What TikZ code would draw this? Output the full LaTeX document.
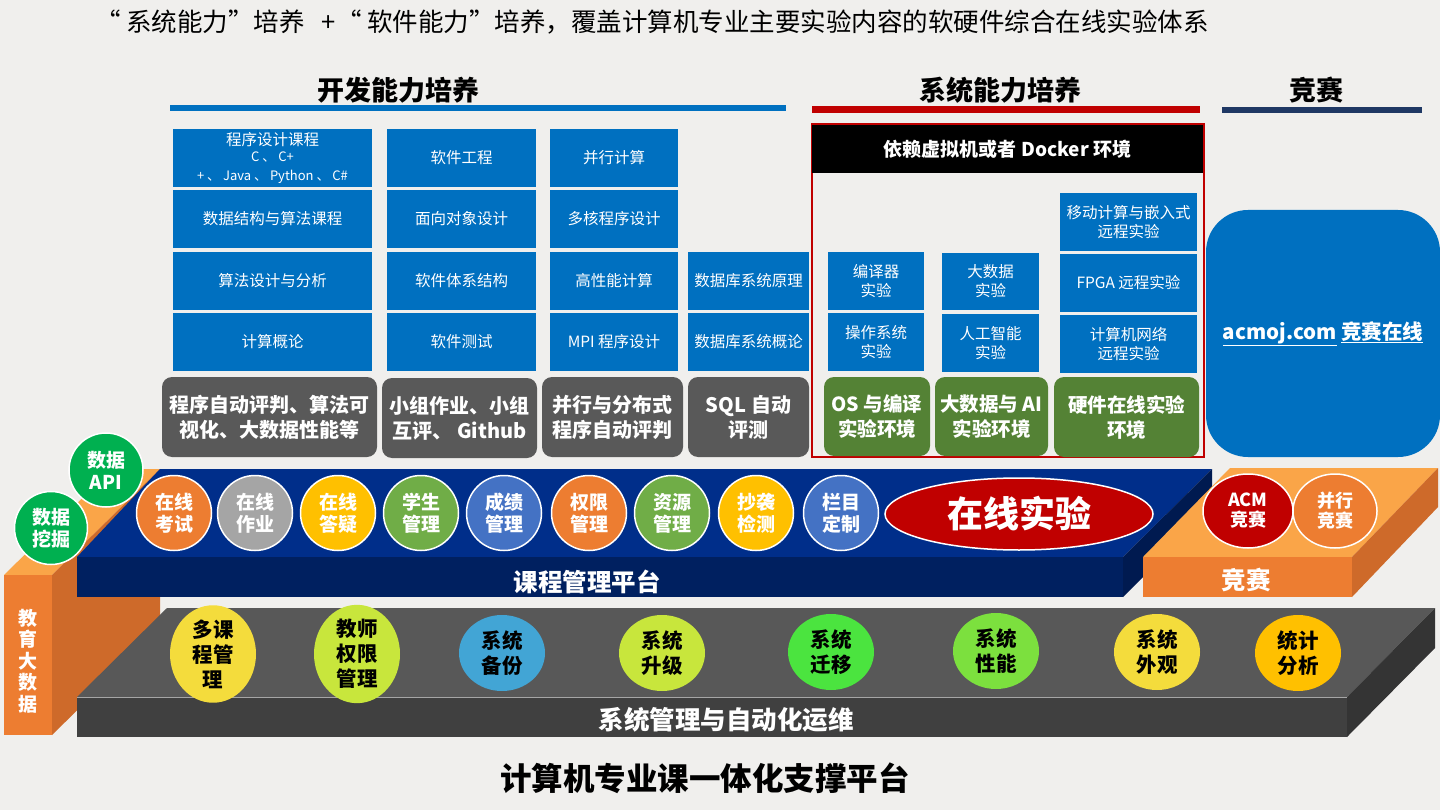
\documentclass[tikz,border=0pt]{standalone}
\usepackage{fontspec}
\setmainfont{Noto Sans CJK SC}
\usetikzlibrary{shapes.geometric}
\definecolor{bg}{RGB}{240,239,237}
\definecolor{cblue}{RGB}{0,112,192}
\definecolor{cgray}{RGB}{89,89,89}
\definecolor{cgreen}{RGB}{84,130,53}
\definecolor{cred}{RGB}{192,0,0}
\definecolor{cnavy}{RGB}{31,56,100}
\definecolor{ptop}{RGB}{0,46,138}
\definecolor{pfront}{RGB}{0,32,96}
\definecolor{pside}{RGB}{0,26,80}
\definecolor{otop}{RGB}{250,165,72}
\definecolor{ofront}{RGB}{237,125,49}
\definecolor{oside}{RGB}{206,106,42}
\definecolor{gtop}{RGB}{88,88,88}
\definecolor{gfront}{RGB}{64,64,64}
\definecolor{gside}{RGB}{52,52,52}
\definecolor{kor}{RGB}{237,125,49}
\definecolor{kgr}{RGB}{165,165,165}
\definecolor{kgo}{RGB}{255,192,0}
\definecolor{kgn}{RGB}{112,173,71}
\definecolor{kbl}{RGB}{68,114,196}
\definecolor{kdg}{RGB}{0,176,80}
\definecolor{myel}{RGB}{244,220,60}
\definecolor{mlime}{RGB}{200,230,60}
\definecolor{msky}{RGB}{66,165,213}
\definecolor{mgrn}{RGB}{75,228,63}
\definecolor{mlgn}{RGB}{124,224,62}
\newcommand\myfs[2]{\fontsize{#1}{#2}\selectfont}
\newcommand\bx[7]{\node[#6, minimum width={#4-#2}, minimum height={#5-#3}] (#1) at ({(#2+#4)/2},{(#3+#5)/2}) {#7};}
\tikzset{
  bb/.style={fill=cblue, text=white, inner sep=0pt, align=center, font=\myfs{15.5}{19}},
  gb/.style={fill=cgray, rounded corners=10pt, text=white, inner sep=0pt, align=center, font=\bfseries\myfs{20}{25}},
  grb/.style={fill=cgreen, rounded corners=10pt, text=white, inner sep=0pt, align=center, font=\bfseries\myfs{19.5}{25}},
  pc/.style={circle, draw=white, line width=1.5pt, minimum size=75pt, text=white, inner sep=0pt, align=center, font=\bfseries\myfs{19}{22}},
  mc/.style={ellipse, minimum width=86pt, minimum height=76pt, text=black, inner sep=0pt, align=center, font=\bfseries\myfs{20.5}{25}},
  hdr/.style={font=\bfseries\myfs{27}{30}, text=black},
  lab/.style={text=white, font=\bfseries\myfs{24.5}{27}}
}
\begin{document}
\begin{tikzpicture}[x=1pt,y=-1pt]
\useasboundingbox (0,0) rectangle (1440,810);
\fill[bg] (0,0) rectangle (1440,810);

% title
\node[font=\myfs{25.5}{28}] (title) at (652,22) {“ 系统能力”培养\ \ \ +“ 软件能力”培养，覆盖计算机专业主要实验内容的软硬件综合在线实验体系};

% section headers
\node[hdr] (h1) at (398,90) {开发能力培养};
\node[hdr] (h2) at (1000,90) {系统能力培养};
\node[hdr] (h3) at (1316,90) {竞赛};
\fill[cblue] (170,105) rectangle (786,111);
\fill[cred] (812,106) rectangle (1200,113);
\fill[cnavy] (1222,107) rectangle (1422,113);

% development boxes
\bx{c11}{173}{129}{372}{187}{bb}{程序设计课程\\[-3pt]{\myfs{13}{15}C 、 C+}\\{\myfs{13}{15}+ 、 Java 、 Python 、 C\#}}
\bx{c12}{173}{190}{372}{248}{bb}{数据结构与算法课程}
\bx{c13}{173}{252}{372}{310}{bb}{算法设计与分析}
\bx{c14}{173}{313}{372}{371}{bb}{计算概论}
\bx{c21}{387}{129}{536}{187}{bb}{软件工程}
\bx{c22}{387}{190}{536}{248}{bb}{面向对象设计}
\bx{c23}{387}{252}{536}{310}{bb}{软件体系结构}
\bx{c24}{387}{313}{536}{371}{bb}{软件测试}
\bx{c31}{550}{129}{678}{187}{bb}{并行计算}
\bx{c32}{550}{190}{678}{248}{bb}{多核程序设计}
\bx{c33}{550}{252}{678}{310}{bb}{高性能计算}
\bx{c34}{550}{313}{678}{371}{bb}{MPI 程序设计}
\bx{c43}{688}{252}{809}{310}{bb}{数据库系统原理}
\bx{c44}{688}{313}{809}{371}{bb}{数据库系统概论}

\bx{g1}{162}{377}{377}{457}{gb}{程序自动评判、算法可\\视化、大数据性能等}
\bx{g2}{382}{378}{537}{458}{gb}{小组作业、小组\\互评、 Github}
\bx{g3}{542}{377}{683}{457}{gb}{并行与分布式\\程序自动评判}
\bx{g4}{688}{377}{809}{457}{gb}{SQL 自动\\评测}

% system section
\draw[cred, line width=2pt] (812,124) rectangle (1204,457);
\bx{dock}{812}{125}{1203}{173}{fill=black, text=white, inner sep=0pt, font=\bfseries\myfs{19}{22}}{依赖虚拟机或者 Docker 环境}
\bx{sa1}{828}{252}{924}{310}{bb}{编译器\\实验}
\bx{sa2}{828}{313}{924}{371}{bb}{操作系统\\实验}
\bx{sb1}{942}{253}{1039}{310}{bb}{大数据\\实验}
\bx{sb2}{942}{314}{1039}{372}{bb}{人工智能\\实验}
\bx{sc1}{1060}{193}{1197}{251}{bb}{移动计算与嵌入式\\远程实验}
\bx{sc2}{1060}{254}{1197}{312}{bb}{FPGA 远程实验}
\bx{sc3}{1060}{315}{1197}{373}{bb}{计算机网络\\远程实验}
\bx{e1}{824}{377}{930}{456}{grb}{OS 与编译\\实验环境}
\bx{e2}{935}{377}{1048}{456}{grb}{大数据与 AI\\实验环境}
\bx{e3}{1054}{377}{1199}{457}{grb}{硬件在线实验\\环境}

% competition box
\bx{acm}{1206}{210}{1440}{457}{fill=cblue, rounded corners=42pt, text=white, inner sep=0pt, font=\bfseries\myfs{20.5}{24}}{\underline{acmoj.com} \underline{竞赛在线}}

% left pillar
\fill[otop] (4,575) -- (52,575) -- (160,469) -- (112,469) -- cycle;
\fill[oside] (52,575) -- (160,469) -- (160,629) -- (52,735) -- cycle;
\fill[ofront] (4,575) rectangle (52,735);
\node[text=white, align=center, font=\bfseries\myfs{19}{21.5}] (edu) at (28,661) {教\\育\\大\\数\\据};

% course platform slab
\fill[ptop] (160,469) -- (1212,469) -- (1123,557) -- (77,557) -- cycle;
\fill[pfront] (77,557) rectangle (1123,597);
\fill[pside] (1123,557) -- (1212,469) -- (1212,509) -- (1123,597) -- cycle;
\node[lab] (plat) at (587,582) {课程管理平台};

% competition slab
\fill[otop] (1230,468) -- (1438,468) -- (1352,557) -- (1143,557) -- cycle;
\fill[ofront] (1143,557) rectangle (1352,597);
\fill[oside] (1352,557) -- (1438,468) -- (1438,507) -- (1352,597) -- cycle;
\node[lab] (comp) at (1246,580) {竞赛};

% system management slab
\fill[gtop] (167,608) -- (1435,608) -- (1347,697) -- (77,697) -- cycle;
\fill[gfront] (77,697) rectangle (1347,737);
\fill[gside] (1347,697) -- (1435,608) -- (1435,648) -- (1347,737) -- cycle;
\draw[gray!70, line width=0.8pt] (77,697) -- (1347,697);
\node[text=white, font=\bfseries\myfs{25.5}{28}] (sysm) at (726,720) {系统管理与自动化运维};

% data circles
\node[pc, fill=kdg, minimum size=74pt] (dapi) at (106,470) {数据\\API};
\node[pc, fill=kdg, minimum size=73pt] (dmin) at (51,528) {数据\\挖掘};

% course platform circles
\node[pc, fill=kor] (p1) at (174,513) {在线\\考试};
\node[pc, fill=kgr] (p2) at (255,513) {在线\\作业};
\node[pc, fill=kgo] (p3) at (338,513) {在线\\答疑};
\node[pc, fill=kgn] (p4) at (421,513) {学生\\管理};
\node[pc, fill=kbl] (p5) at (504,513) {成绩\\管理};
\node[pc, fill=kor] (p6) at (589,513) {权限\\管理};
\node[pc, fill=kgn] (p7) at (672,513) {资源\\管理};
\node[pc, fill=kgo] (p8) at (756,513) {抄袭\\检测};
\node[pc, fill=kbl] (p9) at (841,513) {栏目\\定制};
\node[ellipse, fill=cred, draw=white, line width=1.5pt, minimum width=268pt, minimum height=72pt, text=white, font=\bfseries\myfs{36}{40}] (olx) at (1019,514) {在线实验};

% competition circles
\node[pc, fill=cred, ellipse, minimum width=90pt, minimum height=74pt, font=\bfseries\myfs{18}{20}] (acmc) at (1248,511) {ACM\\竞赛};
\node[pc, fill=kor, ellipse, minimum width=84pt, minimum height=74pt, font=\bfseries\myfs{18}{20}] (parc) at (1335,511) {并行\\竞赛};

% system management circles
\node[mc, fill=myel] (m1) at (213,654) {多课\\程管\\理};
\node[mc, fill=mlime] (m2) at (357,654) {教师\\权限\\管理};
\node[mc, fill=msky] (m3) at (502,653) {系统\\备份};
\node[mc, fill=mlime] (m4) at (662,653) {系统\\升级};
\node[mc, fill=mgrn] (m5) at (831,652) {系统\\迁移};
\node[mc, fill=mlgn] (m6) at (996,651) {系统\\性能};
\node[mc, fill=myel] (m7) at (1157,652) {系统\\外观};
\node[mc, fill=kgo] (m8) at (1298,653) {统计\\分析};

% bottom title
\node[font=\bfseries\myfs{31.5}{34}] (btitle) at (705,778) {计算机专业课一体化支撑平台};
\end{tikzpicture}
\end{document}
